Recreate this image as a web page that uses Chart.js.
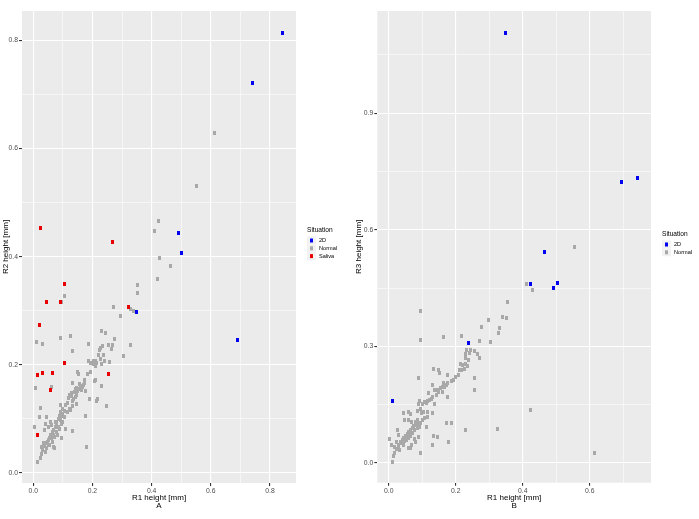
<!DOCTYPE html>
<html>
<head>
<meta charset="utf-8">
<script src="https://cdn.jsdelivr.net/npm/chart.js@4/dist/chart.umd.min.js"></script>
<style>
  body { margin: 0; background: #fff; width: 699px; height: 519px; overflow: hidden; }
  #a { position: absolute; left: 0; top: 0; }
  #b { position: absolute; left: 350px; top: 0; }
</style>
</head>
<body>
<canvas id="a" width="350" height="519"></canvas>
<canvas id="b" width="349" height="519"></canvas>
<script>
// legend categories
const situations = ["2D", "Normal", "Saliva"];

// panel A : R1 height vs R2 height
const a2D = [[0.843,0.814],[0.740,0.721],[0.490,0.444],[0.501,0.406],[0.348,0.297],[0.691,0.246]];
const aSaliva = [[0.025,0.454],[0.269,0.427],[0.107,0.349],[0.044,0.316],[0.091,0.317],[0.020,0.274],
  [0.323,0.307],[0.107,0.203],[0.016,0.181],[0.030,0.185],[0.064,0.185],[0.059,0.154],[0.256,0.184],[0.014,0.070]];
const aNormal = [[0.612,0.629],[0.552,0.530],[0.424,0.466],[0.410,0.447],[0.425,0.397],[0.463,0.383],
  [0.421,0.359],[0.352,0.347],[0.353,0.333],[0.106,0.328],[0.096,0.317],[0.272,0.307],[0.330,0.304],
  [0.339,0.300],[0.296,0.291],[0.329,0.236],[0.305,0.216],
  [0.012,0.243],[0.032,0.238],[0.093,0.250],[0.125,0.253],[0.134,0.226],[0.230,0.262],[0.243,0.259],
  [0.188,0.238],[0.227,0.232],[0.235,0.235],[0.254,0.236],[0.266,0.230],[0.275,0.247],[0.269,0.236],
  [0.223,0.227],[0.220,0.219],[0.238,0.219],[0.227,0.210],[0.241,0.207],[0.211,0.207],[0.202,0.207],
  [0.186,0.207],[0.193,0.203],[0.204,0.201],[0.209,0.198],[0.215,0.204],[0.258,0.206],[0.232,0.201],
  [0.149,0.187],[0.153,0.183],[0.193,0.186],[0.182,0.183],[0.133,0.167],[0.173,0.172],[0.173,0.166],
  [0.206,0.171],[0.212,0.172],[0.229,0.161],[0.063,0.159],[0.008,0.158],[0.160,0.161],[0.168,0.159],
  [0.154,0.156],[0.151,0.151],[0.164,0.153],[0.176,0.152],[0.142,0.155],[0.170,0.163],[0.130,0.148],
  [0.122,0.144],[0.145,0.145],[0.142,0.141],[0.136,0.136],[0.131,0.134],[0.190,0.137],[0.214,0.134],
  [0.216,0.136],[0.145,0.128],[0.132,0.124],[0.123,0.119],[0.125,0.116],[0.091,0.126],[0.117,0.113],
  [0.106,0.114],[0.099,0.110],[0.096,0.105],[0.104,0.103],[0.091,0.098],[0.098,0.095],[0.095,0.090],
  [0.025,0.121],[0.020,0.103],[0.044,0.103],[0.177,0.106],[0.247,0.124],[0.003,0.086],[0.074,0.095],
  [0.057,0.095],[0.063,0.089],[0.079,0.090],[0.086,0.086],[0.043,0.090],[0.050,0.086],[0.038,0.079],
  [0.088,0.081],[0.077,0.076],[0.083,0.070],[0.069,0.070],[0.072,0.066],[0.061,0.064],[0.052,0.061],
  [0.065,0.058],[0.056,0.052],[0.069,0.049],[0.050,0.052],[0.045,0.046],[0.036,0.055],[0.027,0.049],
  [0.032,0.042],[0.041,0.039],[0.029,0.035],[0.024,0.027],[0.014,0.021],[0.109,0.081],[0.131,0.078],
  [0.096,0.064],[0.179,0.049],[0.072,0.047],
  [0.085,0.100],[0.090,0.105],[0.080,0.095],[0.075,0.085],[0.070,0.080],[0.065,0.075],[0.060,0.070],
  [0.055,0.065],[0.048,0.058],[0.042,0.055],[0.038,0.050],[0.093,0.112],[0.100,0.118],[0.110,0.125],
  [0.115,0.130],[0.120,0.138],[0.128,0.142],[0.138,0.150],[0.145,0.158],[0.158,0.165]];

// panel B : R1 height vs R3 height
const b2D = [[0.350,1.107],[0.696,0.722],[0.744,0.733],[0.465,0.542],[0.423,0.461],[0.492,0.451],
  [0.504,0.464],[0.238,0.310],[0.012,0.159]];
const bNormal = [[0.555,0.555],[0.428,0.445],[0.411,0.461],[0.354,0.414],[0.094,0.392],[0.340,0.377],
  [0.353,0.373],[0.297,0.367],[0.277,0.350],[0.331,0.347],[0.329,0.335],[0.216,0.326],[0.165,0.323],
  [0.095,0.317],[0.272,0.314],[0.305,0.311],[0.233,0.292],[0.245,0.291],[0.266,0.281],[0.270,0.269],
  [0.423,0.136],[0.324,0.087],[0.614,0.027],
  [0.229,0.280],[0.242,0.282],[0.255,0.289],[0.229,0.269],[0.237,0.266],[0.213,0.256],[0.220,0.252],
  [0.229,0.254],[0.234,0.250],[0.210,0.239],[0.217,0.239],[0.225,0.241],[0.255,0.218],[0.207,0.226],
  [0.199,0.222],[0.193,0.213],[0.187,0.212],[0.177,0.205],[0.172,0.201],[0.165,0.207],[0.175,0.226],
  [0.152,0.231],[0.150,0.239],[0.135,0.243],[0.167,0.196],[0.162,0.195],[0.155,0.192],[0.147,0.189],
  [0.150,0.183],[0.162,0.183],[0.132,0.201],[0.137,0.188],[0.142,0.175],[0.132,0.171],[0.127,0.164],
  [0.122,0.162],[0.117,0.160],[0.112,0.155],[0.102,0.153],[0.093,0.160],[0.088,0.153],[0.107,0.158],
  [0.119,0.179],[0.177,0.171],[0.255,0.188],[0.090,0.218],[0.137,0.153],[0.096,0.138],[0.086,0.134],
  [0.058,0.132],[0.066,0.126],[0.043,0.128],[0.098,0.128],[0.104,0.132],[0.117,0.132],[0.130,0.128],
  [0.117,0.119],[0.107,0.115],[0.100,0.111],[0.096,0.104],[0.088,0.100],[0.080,0.098],[0.093,0.093],
  [0.086,0.089],[0.078,0.085],[0.070,0.076],[0.066,0.081],[0.060,0.072],[0.056,0.068],[0.050,0.063],
  [0.046,0.057],[0.040,0.055],[0.036,0.051],[0.030,0.046],[0.028,0.040],[0.023,0.035],[0.018,0.025],
  [0.013,0.018],[0.010,0.003],[0.003,0.063],[0.008,0.046],[0.026,0.085],[0.030,0.072],[0.068,0.106],
  [0.112,0.093],[0.172,0.102],[0.187,0.102],[0.135,0.069],[0.147,0.066],[0.179,0.053],[0.229,0.085],
  [0.132,0.046],[0.090,0.066],[0.096,0.027],[0.066,0.038],[0.058,0.038],[0.076,0.063],[0.080,0.055],
  [0.068,0.046],[0.053,0.059],[0.043,0.046],[0.033,0.033],[0.023,0.055],[0.016,0.042],[0.060,0.111],
  [0.046,0.111],
  [0.050,0.070],[0.055,0.075],[0.060,0.080],[0.065,0.085],[0.070,0.090],[0.075,0.095],[0.080,0.105],
  [0.085,0.110],[0.045,0.065],[0.040,0.060],[0.035,0.055],[0.060,0.065],[0.065,0.070]];

// major tick labels
const aXTicks = [0, 0.2, 0.4, 0.6, 0.8];
const aYTicks = [0, 0.2, 0.4, 0.6, 0.8];
const bXTicks = [0, 0.2, 0.4, 0.6];
const bYTicks = [0, 0.3, 0.6, 0.9];

const colors = { "2D": "#0000EE", "Normal": "#A8A8A8", "Saliva": "#E80000" };
const FONT = "'Liberation Sans', Arial, sans-serif";

// small upright rectangle, like the ggplot marks
function mark(color) {
  const c = document.createElement("canvas");
  c.width = 3; c.height = 4;
  const g = c.getContext("2d");
  g.fillStyle = color;
  g.fillRect(0, 0, 3, 4);
  return c;
}

const pts = arr => arr.map(p => ({ x: p[0], y: p[1] }));
const isMajor = (v, list) => list.some(t => Math.abs(t - v) < 1e-6);

const panelBg = {
  id: "panelBg",
  beforeDraw(chart) {
    const { ctx, chartArea: a } = chart;
    ctx.save();
    ctx.fillStyle = "#EBEBEB";
    ctx.fillRect(a.left, a.top, a.right - a.left, a.bottom - a.top);
    ctx.restore();
  }
};

const ggLegend = {
  id: "ggLegend",
  afterDraw(chart, args, o) {
    const ctx = chart.ctx;
    ctx.save();
    ctx.textBaseline = "middle";
    ctx.textAlign = "left";
    ctx.fillStyle = "#000";
    ctx.font = "6.6px " + FONT;
    ctx.fillText("Situation", o.x, o.titleY);
    o.items.forEach((name, i) => {
      const y = o.keyY + i * o.step;
      ctx.fillStyle = "#F2F2F2";
      ctx.fillRect(o.x, y - 4, 9, 8);
      ctx.fillStyle = colors[name];
      ctx.fillRect(o.x + 3, y - 2, 3, 4);
      ctx.fillStyle = "#000";
      ctx.font = "5.6px " + FONT;
      ctx.fillText(name, o.x + 12, y);
    });
    ctx.restore();
  }
};

function makeScale(axis, min, max, step, majors, title, fit) {
  return {
    type: "linear",
    min: min, max: max,
    border: { display: false },
    grid: {
      color: "#FFFFFF",
      lineWidth: c => isMajor(c.tick.value, majors) ? 1.1 : 0.55,
      tickColor: c => isMajor(c.tick.value, majors) ? "#333333" : "rgba(0,0,0,0)",
      tickLength: 3,
      drawTicks: true
    },
    ticks: {
      stepSize: step,
      includeBounds: false,
      autoSkip: false,
      maxRotation: 0,
      padding: axis === "x" ? 1 : 1,
      color: "#4D4D4D",
      font: { family: FONT, size: 6.8 },
      callback: v => isMajor(v, majors) ? v.toFixed(1) : ""
    },
    title: {
      display: true,
      text: title,
      color: "#000",
      font: { family: FONT, size: 8, lineHeight: 1 },
      padding: fit.titlePad
    },
    afterFit: s => { if (axis === "x") s.height = fit.size; else s.width = fit.size; }
  };
}

function dataset(name, arr, order) {
  return {
    label: name,
    data: pts(arr),
    pointStyle: mark(colors[name]),
    pointRadius: 2,
    pointHoverRadius: 2,
    backgroundColor: colors[name],
    borderColor: colors[name],
    order: order
  };
}

new Chart(document.getElementById("a"), {
  type: "scatter",
  data: {
    datasets: [
      dataset("2D", a2D, 1),
      dataset("Normal", aNormal, 3),
      dataset("Saliva", aSaliva, 2)
    ]
  },
  options: {
    responsive: false,
    animation: false,
    devicePixelRatio: 1,
    layout: { padding: { left: 0, right: 54, top: 11, bottom: 0 } },
    scales: {
      x: makeScale("x", -0.038, 0.888, 0.1, aXTicks, ["R1 height [mm]", "A"], { size: 36, titlePad: { top: 0, bottom: 9 } }),
      y: makeScale("y", -0.0185, 0.8545, 0.1, aYTicks, "R2 height [mm]", { size: 22, titlePad: { top: 1.5, bottom: 0 } })
    },
    plugins: {
      legend: { display: false },
      tooltip: { enabled: false },
      ggLegend: { x: 307, titleY: 230, keyY: 240.5, step: 7.8, items: situations }
    }
  },
  plugins: [panelBg, ggLegend]
});

new Chart(document.getElementById("b"), {
  type: "scatter",
  data: {
    datasets: [
      dataset("2D", b2D, 1),
      dataset("Normal", bNormal, 3)
    ]
  },
  options: {
    responsive: false,
    animation: false,
    devicePixelRatio: 1,
    layout: { padding: { left: 0, right: 48, top: 11, bottom: 0 } },
    scales: {
      x: makeScale("x", -0.034, 0.783, 0.1, bXTicks, ["R1 height [mm]", "B"], { size: 36.3, titlePad: { top: 0, bottom: 9 } }),
      y: makeScale("y", -0.0506, 1.163, 0.15, bYTicks, "R3 height [mm]", { size: 27.3, titlePad: { top: 5, bottom: 0 } })
    },
    plugins: {
      legend: { display: false },
      tooltip: { enabled: false },
      ggLegend: { x: 312, titleY: 234, keyY: 244.5, step: 7.8, items: ["2D", "Normal"] }
    }
  },
  plugins: [panelBg, ggLegend]
});
</script>
</body>
</html>
